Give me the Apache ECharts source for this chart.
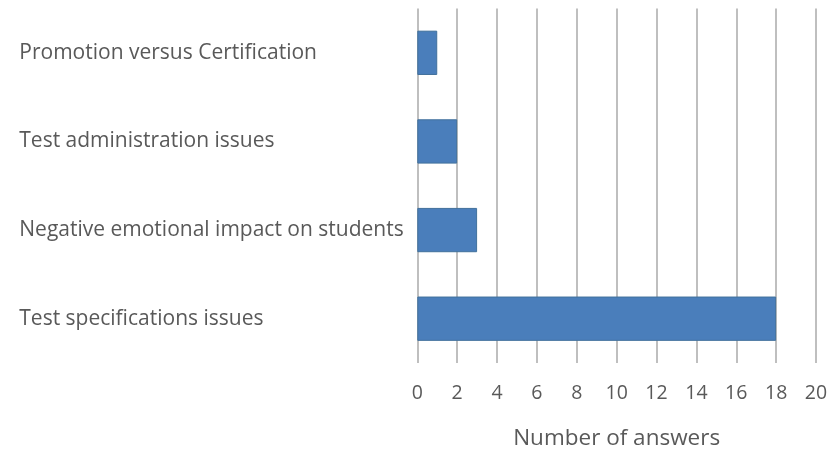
<!DOCTYPE html>
<html><head><meta charset="utf-8">
<script src="https://cdn.jsdelivr.net/npm/echarts@6/dist/echarts.min.js"></script>
<style>html,body{margin:0;padding:0;background:#fff}#c{width:833px;height:455px}</style>
</head><body><div id="c"></div>
<script>
const categories = ["Promotion versus Certification","Test administration issues","Negative emotional impact on students","Test specifications issues"];
const answers = [1, 2, 3, 18];
const xTicks = [0, 2, 4, 6, 8, 10, 12, 14, 16, 18, 20];
const axisName = "Number of answers";

const chart = echarts.init(document.getElementById('c'));
chart.setOption({
  animation: false,
  grid: { left: 417.3, right: 17, top: 8.5, bottom: 86, containLabel: false },
  xAxis: {
    type: 'value', min: xTicks[0], max: xTicks[xTicks.length-1], interval: 2,
    name: axisName, nameLocation: 'middle', nameGap: 64,
    nameTextStyle: { fontFamily: 'Open Sans', fontSize: 22.5, color: '#595959' },
    axisLine: { show: false }, axisTick: { show: false },
    axisLabel: { fontFamily: 'Open Sans', fontSize: 19.5, color: '#595959', margin: 20 },
    splitLine: { show: true, lineStyle: { color: '#bfbfbf', width: 2 } }
  },
  yAxis: {
    type: 'category', data: categories, inverse: true,
    axisLine: { show: false }, axisTick: { show: false },
    axisLabel: { fontFamily: 'Open Sans', fontSize: 21, color: '#595959', align: 'left', margin: 398, padding: [4, 0, 0, 0] }
  },
  series: [{
    type: 'bar', data: answers, barWidth: '50%',
    itemStyle: { color: '#4a7ebb', borderColor: '#41719c', borderWidth: 1 }
  }]
});
</script></body></html>
